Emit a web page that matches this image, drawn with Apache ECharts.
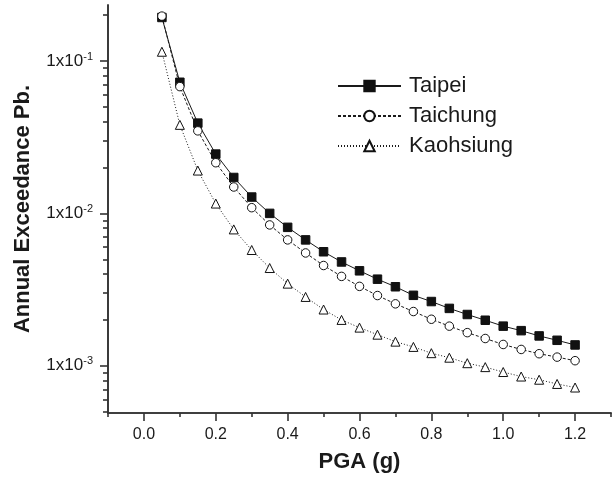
<!DOCTYPE html>
<html>
<head>
<meta charset="utf-8">
<script src="https://cdn.jsdelivr.net/npm/echarts@6/dist/echarts.min.js"></script>
<style>
  html, body { margin: 0; padding: 0; background: #fff; }
  #chart { width: 613px; height: 479px; }
</style>
</head>
<body>
<div id="chart"></div>
<script>
// Peak ground acceleration levels (g)
const pga = [0.05, 0.10, 0.15, 0.20, 0.25, 0.30, 0.35, 0.40, 0.45, 0.50, 0.55, 0.60,
             0.65, 0.70, 0.75, 0.80, 0.85, 0.90, 0.95, 1.00, 1.05, 1.10, 1.15, 1.20];

// Annual exceedance probability per city
const taipei = [0.193, 0.0725, 0.0391, 0.0245, 0.0172, 0.0128, 0.0100, 0.0081, 0.0067, 0.0056, 0.0048, 0.0042,
                0.0037, 0.0033, 0.0029, 0.00264, 0.00238, 0.00217, 0.00199, 0.00182, 0.00170, 0.00157, 0.00147, 0.00137];
const taichung = [0.197, 0.0679, 0.0348, 0.0215, 0.0149, 0.0109, 0.0084, 0.0067, 0.0055, 0.00455, 0.00386, 0.00332,
                  0.00289, 0.00255, 0.00227, 0.00202, 0.00182, 0.00165, 0.00151, 0.00138, 0.00128, 0.00120, 0.00114, 0.00108];
const kaohsiung = [0.115, 0.0381, 0.0191, 0.0116, 0.00785, 0.00575, 0.00438, 0.00346, 0.00283, 0.00234, 0.00200, 0.00178,
                   0.00160, 0.00144, 0.00133, 0.00121, 0.00113, 0.00104, 0.00098, 0.00091, 0.00085, 0.00081, 0.00076, 0.00072];

// Tick positions
const xMajorTicks = [0.0, 0.2, 0.4, 0.6, 0.8, 1.0, 1.2];
const xMinorTicks = [-0.1, 0.1, 0.3, 0.5, 0.7, 0.9, 1.1, 1.3];
const yMajorTicks = [0.001, 0.01, 0.1];
const yMinorTicks = [0.0005, 0.0006, 0.0007, 0.0008, 0.0009,
                     0.002, 0.003, 0.004, 0.005, 0.006, 0.007, 0.008, 0.009,
                     0.02, 0.03, 0.04, 0.05, 0.06, 0.07, 0.08, 0.09,
                     0.2];

const FONT = '"Liberation Sans", Arial, Helvetica, sans-serif';
const INK = '#1a1a1a';
const AXIS = '#333';

const pair = (ys) => pga.map((x, i) => [x, ys[i]]);

const chart = echarts.init(document.getElementById('chart'), null, { renderer: 'canvas' });

const xBase = {
  type: 'value', min: -0.1, max: 1.3, gridIndex: 0, position: 'bottom',
  splitLine: { show: false },
  axisLine: { show: true, onZero: false, lineStyle: { color: AXIS, width: 1.6 } }
};
const yBase = {
  type: 'log', logBase: 10, min: 0.00049, max: 0.233, gridIndex: 0, position: 'left',
  splitLine: { show: false },
  axisLine: { show: true, onZero: false, lineStyle: { color: AXIS, width: 1.6 } }
};

chart.setOption({
  animation: false,
  backgroundColor: '#fff',
  grid: { left: 108, top: 5, right: 2, bottom: 66, containLabel: false },
  legend: {
    orient: 'vertical',
    left: 332, top: 70,
    itemWidth: 63, itemHeight: 13, itemGap: 8,
    textStyle: { fontFamily: FONT, fontSize: 22, color: INK, lineHeight: 22, padding: [0, 0, 0, 3] },
    data: ['Taipei', 'Taichung', 'Kaohsiung']
  },
  xAxis: [
    Object.assign({}, xBase, {
      name: 'PGA (g)', nameLocation: 'middle', nameGap: 38,
      nameTextStyle: { fontFamily: FONT, fontSize: 22, fontWeight: 'bold', color: INK },
      axisTick: { show: true, inside: false, length: 8, customValues: xMajorTicks, lineStyle: { color: AXIS, width: 1.6 } },
      axisLabel: {
        show: true, margin: 14, customValues: xMajorTicks,
        fontFamily: FONT, fontSize: 16, color: INK,
        formatter: (v) => v.toFixed(1)
      }
    }),
    Object.assign({}, xBase, {
      axisTick: { show: true, inside: false, length: 4, customValues: xMinorTicks, lineStyle: { color: AXIS, width: 1.6 } },
      axisLabel: { show: false }
    })
  ],
  yAxis: [
    Object.assign({}, yBase, {
      name: 'Annual Exceedance Pb.', nameLocation: 'middle', nameGap: 74,
      nameTextStyle: { fontFamily: FONT, fontSize: 22, fontWeight: 'bold', color: INK },
      axisTick: { show: true, inside: false, length: 8, customValues: yMajorTicks, lineStyle: { color: AXIS, width: 1.6 } },
      axisLabel: {
        show: true, margin: 15, customValues: yMajorTicks,
        fontFamily: FONT, fontSize: 17, color: INK,
        formatter: (v) => '1x10{s|' + Math.round(Math.log10(v)) + '}',
        rich: {
          s: { fontFamily: FONT, fontSize: 11, color: INK, verticalAlign: 'bottom', padding: [0, 0, 9, 0] }
        }
      }
    }),
    Object.assign({}, yBase, {
      axisTick: { show: true, inside: false, length: 5, customValues: yMinorTicks, lineStyle: { color: AXIS, width: 1.6 } },
      axisLabel: { show: false }
    })
  ],
  series: [
    {
      name: 'Taipei', type: 'line', xAxisIndex: 0, yAxisIndex: 0,
      data: pair(taipei),
      symbol: 'rect', symbolSize: 8.5,
      lineStyle: { color: INK, width: 1, type: 'solid' },
      itemStyle: { color: '#111', borderColor: '#111', borderWidth: 1 }
    },
    {
      name: 'Taichung', type: 'line', xAxisIndex: 0, yAxisIndex: 0,
      data: pair(taichung),
      symbol: 'circle', symbolSize: 8.5,
      lineStyle: { color: INK, width: 1, type: [3, 2] },
      itemStyle: { color: '#fff', borderColor: '#111', borderWidth: 1 }
    },
    {
      name: 'Kaohsiung', type: 'line', xAxisIndex: 0, yAxisIndex: 0,
      data: pair(kaohsiung),
      symbol: 'triangle', symbolSize: 9,
      lineStyle: { color: INK, width: 1, type: [1, 2] },
      itemStyle: { color: '#fff', borderColor: '#111', borderWidth: 1 }
    }
  ]
});
</script>
</body>
</html>
